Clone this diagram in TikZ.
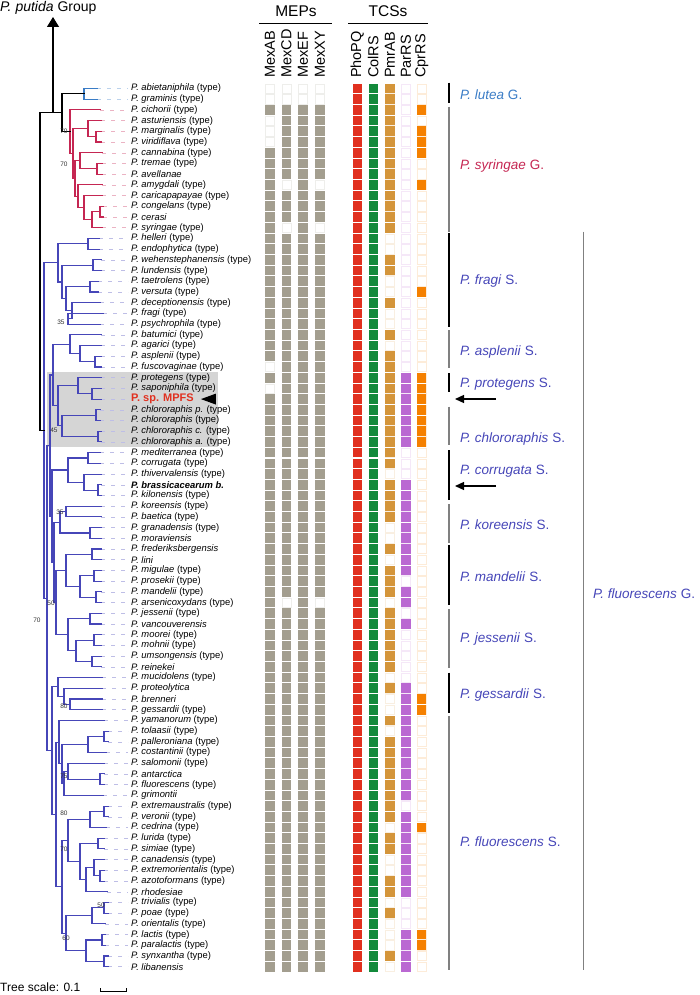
\documentclass[tikz,border=0pt]{standalone}
\usepackage{fontspec}
\setmainfont{Liberation Sans}
\usetikzlibrary{calc,arrows.meta}
\definecolor{mepgray}{HTML}{A39E8F}
\definecolor{phored}{HTML}{E1301F}
\definecolor{colgreen}{HTML}{128A3B}
\definecolor{pmrtan}{HTML}{D4953A}
\definecolor{parpurple}{HTML}{BA68D2}
\definecolor{cprorange}{HTML}{F58000}
\definecolor{luteablue}{HTML}{3A7CC6}
\definecolor{syrred}{HTML}{C52652}
\definecolor{fluoblue}{HTML}{4646B8}
\definecolor{boxgray}{HTML}{D5D5D5}
\newcommand\ty[1]{\textit{P. #1} (type)}
\newcommand\nt[1]{\textit{P. #1}}
\newcommand\rowy[1]{88.5+(#1-1)*10.71}
% clade: [colour]{name}{x}{first child}{last child}
\newcommand\clade[5][fluoblue]{%
  \path ($(#4)!.5!(#5)$) coordinate (tmp);
  \coordinate (#2) at (tmp -| #3,0);
  \draw[branch,#1] (#2) |- (#4) (#2) |- (#5);}
\tikzset{
  leaf/.style={anchor=west,inner sep=0pt,font=\fontsize{9.4}{10}\selectfont},
  colhead/.style={rotate=90,anchor=west,inner sep=0pt,font=\fontsize{14.5}{15}\selectfont},
  grouphead/.style={inner sep=0pt,font=\fontsize{15.5}{16}\selectfont},
  cladelabel/.style={anchor=west,inner sep=0pt,font=\fontsize{13.5}{14}\selectfont},
  boot/.style={inner sep=0pt,font=\fontsize{6.5}{7}\selectfont,text=black!80},
  tipline/.style={dash pattern=on 4pt off 6pt,line width=0.5pt},
  branch/.style={line width=1.1pt,line cap=rect},
  bracket/.style={line width=1.3pt},
  pointer/.style={-{Triangle[length=9pt,width=8pt]},line width=1.3pt},
}
\begin{document}
\begin{tikzpicture}[x=1pt,y=-1pt]
\useasboundingbox (0,0) rectangle (699,995);

% shaded protegens/chlororaphis block
\fill[boxgray] (47,371.7) rectangle (218,446.5);

% species labels
\foreach \nm [count=\i] in {\ty{abietaniphila},\ty{graminis},\ty{cichorii},\ty{asturiensis},
  \ty{marginalis},\ty{viridiflava},\ty{cannabina},\ty{tremae},\nt{avellanae},\ty{amygdali},
  \ty{caricapapayae},\ty{congelans},\nt{cerasi},\ty{syringae},\ty{helleri},\ty{endophytica},
  \ty{wehenstephanensis},\ty{lundensis},\ty{taetrolens},\ty{versuta},\ty{deceptionensis},
  \ty{fragi},\ty{psychrophila},\ty{batumici},\ty{agarici},\ty{asplenii},\ty{fuscovaginae},
  \ty{protegens},\ty{saponiphila},{\fontsize{11}{11}\selectfont\textcolor{phored}{\textbf{P. sp. MPFS}}},
  \ty{chlororaphis p.},
  \ty{chlororaphis},\ty{chlororaphis c.},\ty{chlororaphis a.},\ty{mediterranea},\ty{corrugata},
  \ty{thivervalensis},{\textbf{\textit{P. brassicacearum b.}}},\ty{kilonensis},\ty{koreensis},
  \ty{baetica},\ty{granadensis},\nt{moraviensis},\nt{frederiksbergensis},\nt{lini},
  \ty{migulae},\ty{prosekii},\ty{mandelii},\ty{arsenicoxydans},\ty{jessenii},\nt{vancouverensis},
  \ty{moorei},\ty{mohnii},\ty{umsongensis},\nt{reinekei},\ty{mucidolens},\nt{proteolytica},
  \nt{brenneri},\ty{gessardii},\ty{yamanorum},\ty{tolaasii},\ty{palleroniana},\ty{costantinii},
  \ty{salomonii},\nt{antarctica},\ty{fluorescens},\nt{grimontii},\ty{extremaustralis},
  \ty{veronii},\ty{cedrina},\ty{lurida},\ty{simiae},\ty{canadensis},\ty{extremorientalis},
  \ty{azotoformans},\nt{rhodesiae},\ty{trivialis},\ty{poae},\ty{orientalis},\ty{lactis},
  \ty{paralactis},\ty{synxantha},\nt{libanensis}}
  \node[leaf] (s\i) at (131,{\rowy{\i}}) {\nm};

% tips and dashed leaders
\foreach \tx [count=\i] in {97,97} {
  \coordinate (t\i) at (\tx,{\rowy{\i}});
  \draw[tipline,luteablue!35] (t\i) -- ($(s\i.west)+(-3,0)$);}
\foreach \tx [count=\i from 3] in {100,101,101,101,102,102,102,102,102,103,103,102} {
  \coordinate (t\i) at (\tx,{\rowy{\i}});
  \draw[tipline,syrred!35] (t\i) -- ($(s\i.west)+(-3,0)$);}
\foreach \tx [count=\i from 15] in {99,99,101,101,98,98,100,103,100,
  101,101,101,101, 101,101,101,100,100,101,101, 100,100,101,101,101,
  101,101,101,101, 101,101,101,101,101,101, 101,101,101,101,101,101,
  102,102,102,102, 104,108,108,106,104,104,104,103,108,108,106,104,104,
  104,104,104,107,108,108,105,105,105,108,108} {
  \coordinate (t\i) at (\tx,{\rowy{\i}});
  \draw[tipline,fluoblue!35] (t\i) -- ($(s\i.west)+(-3,0)$);}

% P. lutea / P. syringae groups
\clade[luteablue]{nLu}{84}{t1}{t2}
\clade[syrred]{nSh}{100}{t12}{t13}
\clade[syrred]{nSg}{92}{nSh}{t14}
\clade[syrred]{nSf}{84}{t11}{nSg}
\clade[syrred]{nSe}{78}{t10}{nSf}
\clade[syrred]{nSd2}{97}{t8}{t9}
\clade[syrred]{nSd}{80}{t7}{nSd2}
\clade[syrred]{nSc}{75}{nSd}{nSe}
\clade[syrred]{nSb2}{96}{t5}{t6}
\clade[syrred]{nSb}{88}{t4}{nSb2}
\clade[syrred]{nSa}{73}{nSb}{nSc}
\clade[syrred]{nSy}{70}{t3}{nSa}
\clade[black]{nLS}{62}{nLu}{nSy}

% P. fluorescens group: fragi
\clade{nFr1}{88}{t15}{t16}
\clade{nFr3}{93}{t17}{t18}
\clade{nFr5}{90}{t19}{t20}
\clade{nFr7}{68}{t22}{t23}
\clade{nFr6}{72}{t21}{nFr7}
\clade{nFr4}{66}{nFr5}{nFr6}
\clade{nFr2}{62}{nFr3}{nFr4}
\clade{nFr}{58}{nFr1}{nFr2}
% asplenii, protegens, chlororaphis
\clade{nAs2}{95}{t26}{t27}
\clade{nAs1}{80}{t25}{nAs2}
\clade{nAs}{70}{t24}{nAs1}
\clade{nPr1}{92}{t29}{t30}
\clade{nPr}{78}{t28}{nPr1}
\clade{nCh1}{96}{t31}{t32}
\clade{nCh2}{98}{t33}{t34}
\clade{nCh}{62}{nCh1}{nCh2}
\clade{nPC}{58}{nPr}{nCh}
\clade{nR4}{53}{nAs}{nPC}
% corrugata, koreensis, mandelii, jessenii
\clade{nCo1}{88}{t35}{t36}
\clade{nCo3}{98}{t38}{t39}
\clade{nCo2}{84}{t37}{nCo3}
\clade{nCo}{68}{nCo1}{nCo2}
\clade{nKo1}{66}{t40}{t41}
\clade{nKo2}{90}{t42}{t43}
\clade{nKo}{60}{nKo1}{nKo2}
\clade{nMa1}{92}{t44}{t45}
\clade{nMa3}{94}{t46}{t47}
\clade{nMa4}{96}{t48}{t49}
\clade{nMa2}{80}{nMa3}{nMa4}
\clade{nMa}{66}{nMa1}{nMa2}
\clade{nJe1}{90}{t50}{t51}
\clade{nJe3}{94}{t52}{t53}
\clade{nJe4}{92}{t54}{t55}
\clade{nJe2}{76}{nJe3}{nJe4}
\clade{nJe}{68}{nJe1}{nJe2}
\clade{nR7}{56}{nMa}{nJe}
\clade{nR6}{54}{nKo}{nR7}
\clade{nR5}{52}{nCo}{nR6}
\clade{nR2}{50}{nR4}{nR5}
% gessardii
\clade{nGe2}{70}{t58}{t59}
\clade{nGe1}{64}{t57}{nGe2}
\clade{nGe}{58}{t56}{nGe1}
% fluorescens
\clade{nF1d}{104}{t61}{t62}
\clade{nF1b}{88}{nF1d}{t63}
\clade{nF1f}{100}{t65}{t66}
\clade{nF1e}{68}{t64}{nF1f}
\clade{nF1c}{64}{nF1e}{t67}
\clade{nF1a}{62}{nF1b}{nF1c}
\clade{nF1}{59}{t60}{nF1a}
\clade{nF2e}{104}{t68}{t69}
\clade{nF2c}{90}{nF2e}{t70}
\clade{nF2f}{98}{t71}{t72}
\clade{nF2i}{100}{t74}{t75}
\clade{nF2h}{94}{t73}{nF2i}
\clade{nF2g}{86}{nF2h}{t76}
\clade{nF2d}{80}{nF2f}{nF2g}
\clade{nF2a}{68}{nF2c}{nF2d}
\clade{nF2l}{104}{t77}{t78}
\clade{nF2j}{92}{nF2l}{t79}
\clade{nF2m}{102}{t80}{t81}
\clade{nF2n}{104}{t82}{t83}
\clade{nF2k}{86}{nF2m}{nF2n}
\clade{nF2b}{66}{nF2j}{nF2k}
\clade{nF2}{62}{nF2a}{nF2b}
\clade{nFl}{56}{nF1}{nF2}
\clade{nR3}{52}{nGe}{nFl}
\clade{nR1}{47}{nR2}{nR3}
\clade{nFG}{44}{nFr}{nR1}
\clade[black]{nRoot}{40}{nLS}{nFG}

% bootstrap values
\foreach \bx/\by/\bv in {64/131/70,64/164/70,61/322/35,54/430/45,60/512/35,51/603/50,
  37/620/70,64/706/80,64/776/75,64/813/80,64/849/70,101/905/50,66/938/60}
  \node[boot] (bs\by) at (\bx,\by) {\bv};

% putida group arrow
\coordinate (pbase) at (nLS -| 53,0);
\coordinate (putida) at (53,17);
\draw[line width=1.2pt,-{Triangle[length=10pt,width=12pt]}] (pbase) -- (putida);
\node[anchor=west,inner sep=0pt,font=\fontsize{14}{14}\selectfont] (pg) at (0,8) {\textit{P. putida} Group};

% headers
\node[grouphead] (meps) at (296,11) {MEPs};
\node[grouphead] (tcss) at (388,11) {TCSs};
\draw[line width=1pt] (259.3,23.3) -- (331.7,23.3);
\draw[line width=1pt] (348.3,23.3) -- (428.3,23.3);
\foreach \cx/\lab in {270/MexAB,286.5/MexCD,303/MexEF,320/MexXY,
  357.3/PhoPQ,373.3/ColRS,390/PmrAB,406/ParRS,421.7/CprRS}
  \node[colhead] (h\lab) at (\cx,78) {\lab};

% MEP cells: filled except gaps
\foreach \cx/\gaps in {270/{1,2,4,5,6,27,29},286.5/{1,2,10,14,49},303/{1,2},320/{1,2,10,14,49}} {
  \foreach \r in {1,...,83}
    \fill[mepgray] ({\cx-4.7},{\rowy{\r}-4.85}) rectangle ++(9.4,9.7);
  \foreach \r in \gaps
    \draw[mepgray!18,fill=white,line width=0.5pt] ({\cx-4.5},{\rowy{\r}-4.6}) rectangle ++(9,9.2);
}
% TCS cells
\foreach \cx/\cc in {357.3/phored,373.3/colgreen}
  \foreach \r in {1,...,83}
    \fill[\cc] ({\cx-4.7},{\rowy{\r}-4.85}) rectangle ++(9.4,9.7);
\foreach \cx/\cc/\hits in {
  390/pmrtan/{1,2,3,4,5,6,7,8,9,10,11,12,13,14,17,18,21,24,26,27,28,29,30,31,32,33,34,35,36,38,39,40,41,44,46,47,48,50,51,52,53,54,55,57,60,62,63,64,65,66,67,68,69,71,72,75,76,78,82},
  406/parpurple/{28,29,30,31,32,33,34,38,39,40,41,42,43,44,45,46,48,49,51,57,58,59,60,61,62,63,64,65,66,67,69,70,71,72,73,74,75,76,80,81,82,83},
  421.7/cprorange/{3,5,6,7,10,20,28,29,30,31,32,33,34,58,59,70,80,81}} {
  \foreach \r in {1,...,83}
    \draw[\cc!15,fill=white,line width=0.5pt] ({\cx-4.5},{\rowy{\r}-4.6}) rectangle ++(9,9.2);
  \foreach \r in \hits
    \fill[\cc] ({\cx-4.7},{\rowy{\r}-4.85}) rectangle ++(9.4,9.7);
}

% MPFS pointer
\fill ($(s30.east)+(7,0)$) coordinate (mp) -- ++(15,-5.5) -- ++(0,11) -- cycle;

% clade brackets
\foreach \ya/\yb/\cc/\txt/\yt/\tc in {
  82.7/103.3/black/{\textit{P. lutea} G.}/95/luteablue,
  106.7/231.7/gray/{\textit{P. syringae} G.}/166/syrred,
  233/326.7/black/{\textit{P. fragi} S.}/280.7/fluoblue,
  330/368.3/gray/{\textit{P. asplenii} S.}/351.7/fluoblue,
  373/391.7/black/{\textit{P. protegens} S.}/384/fluoblue,
  406.7/445/gray/{\textit{P. chlororaphis} S.}/439.3/fluoblue,
  450/500/black/{\textit{P. corrugata} S.}/470.7/fluoblue,
  504/543.3/gray/{\textit{P. koreensis} S.}/525/fluoblue,
  545/605/black/{\textit{P. mandelii} S.}/576.7/fluoblue,
  609/668.3/gray/{\textit{P. jessenii} S.}/639/fluoblue,
  672.7/713.3/black/{\textit{P. gessardii} S.}/695/fluoblue,
  716/970/gray/{\textit{P. fluorescens} S.}/841.7/fluoblue} {
  \draw[bracket,\cc] (449,\ya) -- (449,\yb);
  \node[cladelabel,text=\tc] at (460,\yt) {\txt};
}
\draw[bracket,gray] (583.3,231.7) -- (583.3,970);
\node[cladelabel,text=fluoblue] (gFluo) at (593,593.3) {\textit{P. fluorescens} G.};

% arrows to the two strains
\coordinate (a1) at (496,399); \coordinate (a1e) at (455,399);
\coordinate (a2) at (496,486); \coordinate (a2e) at (455,486);
\draw[pointer] (a1) -- (a1e);
\draw[pointer] (a2) -- (a2e);

% tree scale
\node[anchor=west,inner sep=0pt,font=\fontsize{12}{12}\selectfont] (ts) at (0,987) {Tree scale: 0.1};
\draw[line width=0.8pt] (100,988) -- (100,991.5) -- (126,991.5) -- (126,988);
\end{tikzpicture}
\end{document}
